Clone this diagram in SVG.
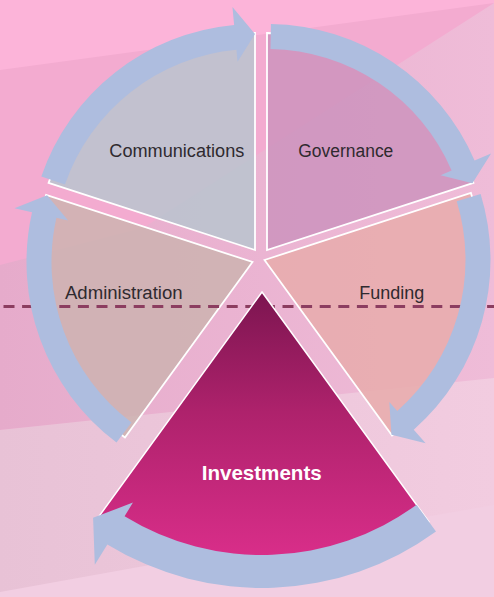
<svg xmlns="http://www.w3.org/2000/svg" width="494" height="597" viewBox="0 0 494 597">
  <defs>
    <linearGradient id="bgMid" x1="0" y1="0" x2="494" y2="0" gradientUnits="userSpaceOnUse">
      <stop offset="0" stop-color="#E6ABCB"/>
      <stop offset="1" stop-color="#EFBCD8"/>
    </linearGradient>
    <linearGradient id="bgLow" x1="0" y1="0" x2="494" y2="0" gradientUnits="userSpaceOnUse">
      <stop offset="0" stop-color="#E8C2D6"/>
      <stop offset="1" stop-color="#F2CCE0"/>
    </linearGradient>
    <linearGradient id="invGrad" x1="0" y1="292" x2="0" y2="560" gradientUnits="userSpaceOnUse">
      <stop offset="0" stop-color="#7C1550"/>
      <stop offset="0.45" stop-color="#AE226C"/>
      <stop offset="1" stop-color="#DA2E8A"/>
    </linearGradient>
    <style>
      .wedge { stroke: #FFFFFF; stroke-width: 1.8; fill-opacity: 0.85; }
      .arrow { fill: #AEBDDF; stroke: none; }
      .lbl { font-family: "Liberation Sans", Arial, sans-serif; font-size: 18px; fill: #2F2A2F; text-anchor: middle; }
      .lblInv { font-family: "Liberation Sans", Arial, sans-serif; font-size: 21px; font-weight: bold; fill: #FFFFFF; text-anchor: middle; }
    </style>
  </defs>

  <g id="background">
    <rect x="0" y="0" width="494" height="597" fill="#F3ABD0"/>
    <polygon points="0,0 494,0 494,3 0,70" fill="#FCB4D9"/>
    <polygon points="0,265 143,228 494,3 494,380 0,430" fill="url(#bgMid)"/>
    <polygon points="0,430 494,378 494,597 0,597" fill="url(#bgLow)"/>
    <polygon points="0,592 200,556 494,505 494,597 0,597" fill="#F2CEE2"/>
  </g>

  <g id="node-communications">
    <path class="wedge" fill="#B8C4CF" d="M255,250 L48.6,182.9 A217,217 0 0 1 255,33 Z"/>
    <text class="lbl" x="176.8" y="157" textLength="135" lengthAdjust="spacingAndGlyphs">Communications</text>
  </g>
  <g id="node-governance">
    <path class="wedge" fill="#CC93BD" d="M267,250 L267,33 A217,217 0 0 1 473.4,182.9 Z"/>
    <text class="lbl" x="345.8" y="157" textLength="95" lengthAdjust="spacingAndGlyphs">Governance</text>
  </g>
  <g id="node-funding">
    <path class="wedge" fill="#E8ABAC" d="M264.5,260 L470.9,192.9 A217,217 0 0 1 392.05,435.56 Z"/>
    <text class="lbl" x="391.7" y="299" textLength="65" lengthAdjust="spacingAndGlyphs">Funding</text>
  </g>
  <g id="node-administration">
    <path class="wedge" fill="#CDB3B0" d="M252.5,262 L124.95,437.56 A217,217 0 0 1 46.1,194.9 Z"/>
    <text class="lbl" x="123.8" y="299" textLength="117.7" lengthAdjust="spacingAndGlyphs">Administration</text>
  </g>

  <line id="divider" x1="3.5" y1="306.6" x2="494" y2="306.6" stroke="#8C3D60" stroke-width="3" stroke-dasharray="11 7.6"/>

  <g id="node-investments">
    <path stroke="#FFFFFF" stroke-width="1.5" fill="url(#invGrad)" d="M262,292 L428.9,521.8 A284,284 0 0 1 95.07,521.76 Z"/>
    <text class="lblInv" x="261.7" y="480.3" textLength="120" lengthAdjust="spacingAndGlyphs">Investments</text>
  </g>

  <g id="connectors">
    <path class="arrow" d="M41.31,176.42 A226,226 0 0 1 234.12,24.97 L232.46,7.04 L255,34 L237.54,61.81 L236.43,49.86 A201,201 0 0 0 64.95,184.56 Z"/>
    <path class="arrow" d="M270.94,24.03 A226,226 0 0 1 474.57,160.61 L491.1,153.49 L472.43,183.25 L440.59,175.24 L451.61,170.49 A201,201 0 0 0 270.51,49.03 Z"/>
    <path class="arrow" d="M480.62,193.92 A226,226 0 0 1 413.76,429.7 L425.65,443.21 L391.46,434.75 L389.32,401.92 L397.25,410.93 A201,201 0 0 0 456.72,201.23 Z"/>
    <path class="arrow" d="M435.99,531.47 A296,296 0 0 1 107.34,544.38 L94.8,564.84 L93.08,517.81 L132.94,502.6 L124.58,516.24 A263,263 0 0 0 416.59,504.77 Z"/>
    <path class="arrow" d="M116.49,442.49 A226,226 0 0 1 32.03,212.31 L14.47,208.36 L47.07,195.25 L68.13,220.45 L56.42,217.81 A201,201 0 0 0 131.53,422.53 Z"/>
  </g>
</svg>
